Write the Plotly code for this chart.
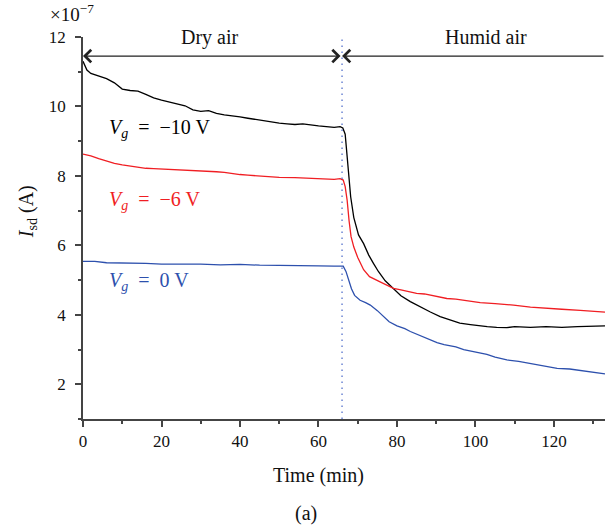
import plotly.graph_objects as go

# ---- data (time in min, current in units of 1e-7 A) ----
t_m10 = [0, 1, 2, 4, 6, 8, 10, 12, 14, 16, 18, 20, 22, 24, 26, 28, 30, 32, 34, 36, 38, 40,
         42, 44, 46, 48, 50, 52, 54, 56, 58, 60, 62, 64, 65.5, 66.2, 66.8, 67.3, 67.6, 68.2,
         69.0, 70.2, 71.5, 72.8, 74, 75.3, 77, 79, 81, 83.4, 86, 88.5, 91, 93.6, 96, 98.7,
         101, 103, 105.4, 108, 110, 114, 118, 122, 126, 130, 133]
i_m10 = [11.30, 11.05, 10.95, 10.88, 10.80, 10.68, 10.50, 10.46, 10.44, 10.35, 10.25, 10.18,
         10.12, 10.08, 10.02, 9.90, 9.86, 9.88, 9.80, 9.76, 9.74, 9.70, 9.66, 9.62, 9.60, 9.55,
         9.52, 9.50, 9.48, 9.50, 9.46, 9.44, 9.42, 9.40, 9.42, 9.38, 9.20, 8.60, 8.20, 7.40,
         6.80, 6.30, 6.05, 5.72, 5.48, 5.24, 4.98, 4.76, 4.55, 4.38, 4.22, 4.08, 3.95, 3.84,
         3.76, 3.72, 3.68, 3.66, 3.64, 3.63, 3.66, 3.64, 3.66, 3.64, 3.66, 3.66, 3.68]

t_m6 = [0, 2, 4, 6, 8, 10, 12, 14, 16, 18, 20, 22, 24, 26, 28, 30, 32, 34, 36, 38, 40, 42, 44,
        46, 48, 50, 54, 56, 58, 60, 62, 64, 65.5, 66.3, 66.8, 67.3, 67.8, 68.3, 69.0, 70.0,
        71.5, 73, 75.7, 77.5, 79.1, 81, 83, 85, 87, 89, 91, 92.7, 95, 98, 101.2, 105, 109.7,
        114, 118.2, 122, 126.7, 130, 133]
i_m6 = [8.63, 8.58, 8.50, 8.42, 8.36, 8.32, 8.28, 8.24, 8.22, 8.21, 8.20, 8.18, 8.17, 8.16,
        8.16, 8.14, 8.13, 8.12, 8.10, 8.06, 8.04, 8.02, 8.00, 7.99, 7.97, 7.96, 7.95, 7.94,
        7.94, 7.93, 7.92, 7.90, 7.92, 7.88, 7.69, 7.30, 6.70, 6.25, 5.95, 5.65, 5.30, 5.10,
        4.95, 4.85, 4.76, 4.72, 4.66, 4.62, 4.60, 4.55, 4.50, 4.47, 4.45, 4.40, 4.35, 4.32,
        4.28, 4.22, 4.18, 4.16, 4.13, 4.10, 4.08]

t_0 = [0, 3, 6, 9, 12, 16, 20, 25, 30, 35, 40, 45, 50, 55, 60, 64, 66.3, 67.0, 67.7, 68.4,
       69.2, 70.6, 72, 73.2, 75, 76.6, 78, 80, 82, 83.4, 85.9, 88, 90.2, 92, 95, 97, 100,
       102.9, 105, 108, 111, 114, 117, 120.8, 124, 126.7, 130, 133]
i_0 = [5.54, 5.54, 5.50, 5.50, 5.49, 5.48, 5.46, 5.47, 5.46, 5.44, 5.45, 5.43, 5.43, 5.41,
       5.41, 5.40, 5.40, 5.25, 5.00, 4.75, 4.56, 4.42, 4.35, 4.28, 4.12, 3.96, 3.80, 3.68,
       3.60, 3.52, 3.40, 3.30, 3.20, 3.14, 3.08, 3.00, 2.92, 2.86, 2.78, 2.70, 2.66, 2.60,
       2.54, 2.46, 2.44, 2.40, 2.34, 2.30]

switch_time = 66
x_max = 133
arrow_level = 11.45

FONT = "Liberation Serif"
C_BLACK = "#000000"
C_RED = "#f01e23"
C_BLUE = "#2d50ad"
C_TEXT = "#111111"

fig = go.Figure()
for tx, iy, col in [(t_m10, i_m10, C_BLACK), (t_m6, i_m6, C_RED), (t_0, i_0, C_BLUE)]:
    fig.add_trace(go.Scatter(x=tx, y=iy, mode="lines",
                             line=dict(color=col, width=1.3), showlegend=False,
                             hoverinfo="skip"))

# dotted switch line
fig.add_shape(type="line", x0=switch_time, x1=switch_time, y0=1, y1=12.05,
              xref="x", yref="y", line=dict(color="#5572cc", width=1.3, dash="1.5px,4.5px"))

ann = []
# arrows
ann.append(dict(x=0, y=arrow_level, ax=switch_time, ay=arrow_level, xref="x", yref="y",
                axref="x", ayref="y", text="", showarrow=True, arrowside="end+start",
                arrowhead=4, startarrowhead=4, arrowsize=2.2, startarrowsize=2.2,
                arrowwidth=1.1, arrowcolor="#222", standoff=0, startstandoff=0))
ann.append(dict(x=switch_time, y=arrow_level, ax=x_max, ay=arrow_level, xref="x", yref="y",
                axref="x", ayref="y", text="", showarrow=True, arrowside="end",
                arrowhead=4, arrowsize=2.2, arrowwidth=1.1, arrowcolor="#222", standoff=0))

PX = lambda px: (px - 83) / 522
PY = lambda py: (418.7 - py) / 381.7


def txt(px, py, s, size, color=C_TEXT, xanchor="center", angle=0):
    return dict(x=PX(px), y=PY(py), xref="paper", yref="paper", text=s,
                xanchor=xanchor, yanchor="middle", textangle=angle, showarrow=False,
                font=dict(family=FONT, size=size, color=color))


ann.append(txt(210, 37, "Dry air", 20))
ann.append(txt(486, 37, "Humid air", 20))

EQ = "\u2002=\u2002"
ann.append(txt(107, 128, "<i>V<sub>g</sub></i>" + EQ + "−10 V", 20, C_BLACK, "left"))
ann.append(txt(107, 200, "<i>V<sub>g</sub></i>" + EQ + "−6 V", 20, C_RED, "left"))
ann.append(txt(107, 281, "<i>V<sub>g</sub></i>" + EQ + "0 V", 20, C_BLUE, "left"))

ann.append(txt(48, 13, "×10<sup>−7</sup>", 19, C_TEXT, "left"))
ann.append(txt(27, 212, "<i>I</i><sub>sd</sub> (A)", 20, C_TEXT, "center", -90))
ann.append(txt(318, 475, "Time (min)", 20))
ann.append(txt(306, 513, "(a)", 20))

axis_common = dict(showline=True, linecolor="#444", linewidth=1.6, ticks="outside",
                   ticklen=6, tickwidth=1.5, tickcolor="#444", showgrid=False,
                   zeroline=False, tickfont=dict(family=FONT, size=17, color=C_TEXT))

fig.update_layout(
    width=608, height=529,
    margin=dict(l=83, r=3, t=37, b=110),
    paper_bgcolor="white", plot_bgcolor="white",
    xaxis=dict(range=[0, x_max], tickmode="linear", tick0=0, dtick=20,
               minor=dict(dtick=10, ticks="outside", ticklen=3, tickwidth=1.5,
                          tickcolor="#444"), **axis_common),
    yaxis=dict(range=[1, 12], tickmode="linear", tick0=0, dtick=2, ticklabelstandoff=6,
               minor=dict(dtick=1, ticks="outside", ticklen=3, tickwidth=1.5,
                          tickcolor="#444"), **axis_common),
    annotations=ann,
)

fig.write_html("out.html", config={"displayModeBar": False},
               post_script="document.body.style.margin='0';")
